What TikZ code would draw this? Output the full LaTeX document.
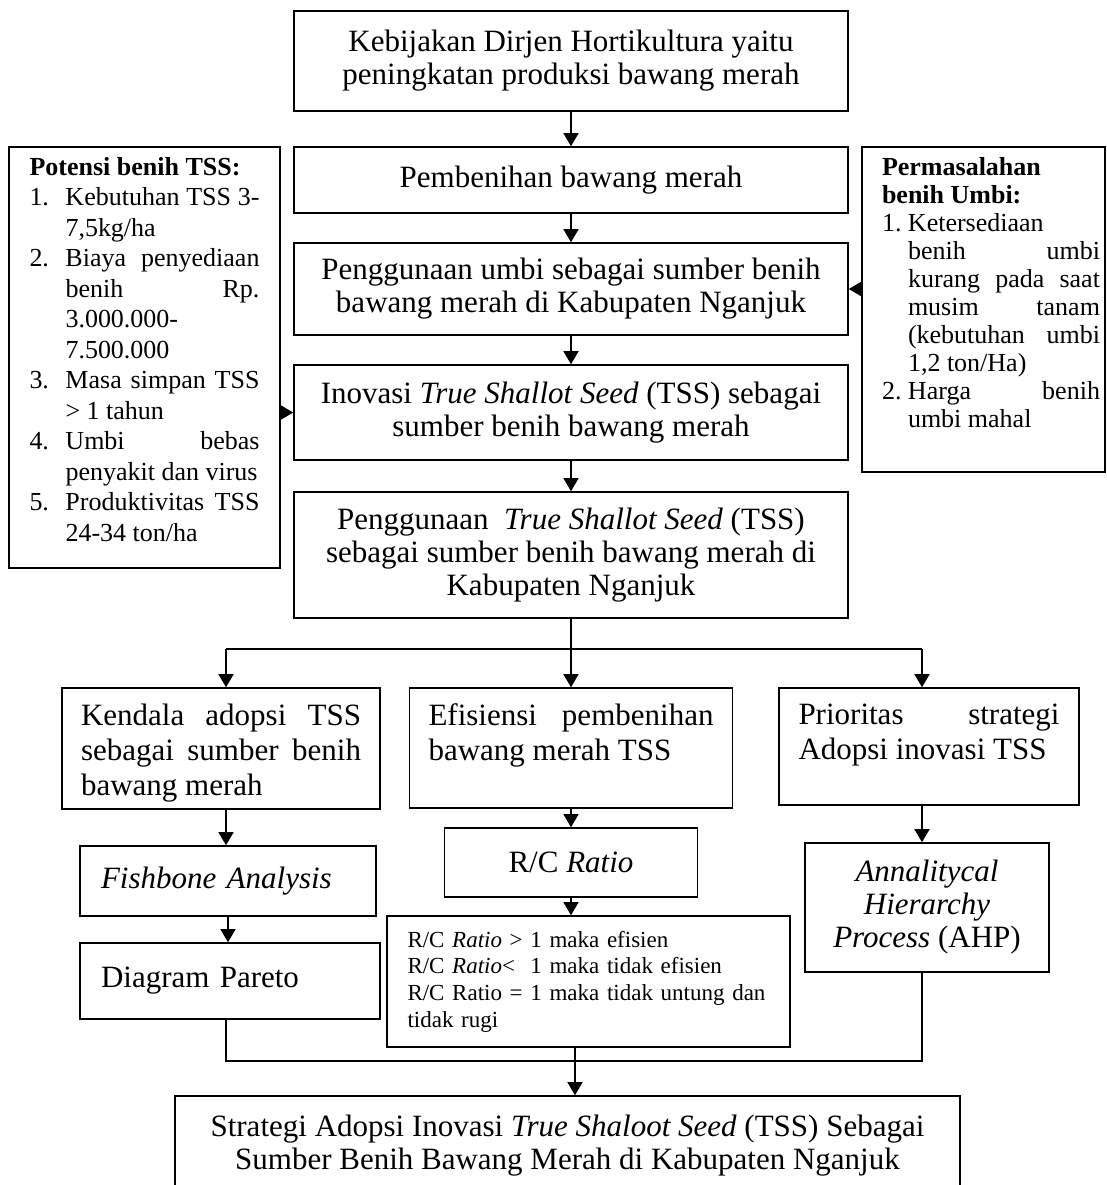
\documentclass[tikz,border=0pt]{standalone}
\usepackage{fontspec}
\setmainfont{Liberation Serif}
\usetikzlibrary{arrows.meta}

\newcommand{\bigtxt}{\fontsize{15.5pt}{16.5pt}\selectfont}
\newcommand{\coltxt}{\fontsize{15.5pt}{17.5pt}\selectfont}
\newcommand{\sidetxt}{\fontsize{13pt}{15.25pt}\selectfont}
\newcommand{\masalahtxt}{\fontsize{13pt}{14pt}\selectfont}
\newcommand{\smalltxt}{\fontsize{11.5pt}{13.3pt}\selectfont}
\newcommand{\numitem}[3]{\par\noindent\hangindent=#1\hangafter=1\makebox[#1][l]{#2}#3\par}
\newcommand{\topbox}[4]{\parbox[c][#1][t]{#2}{\hyphenpenalty=10000 \vspace*{#3}#4}}

\tikzset{
  box/.style={draw, line width=0.8pt, inner sep=0pt},
  link/.style={line width=0.7pt},
  arr/.style={link, -{Triangle[length=6.5pt,width=7.5pt]}},
}

\begin{document}
\begin{tikzpicture}[x=0.5pt,y=-0.5pt]
\useasboundingbox (0,0) rectangle (1107,1185);
\clip (0,0) rectangle (1107,1185);
\fill[white] (0,0) rectangle (1107,1185);

% main column
\node[box, align=center, font=\bigtxt, minimum width=277pt, minimum height=50pt] (kebijakan) at (571,61) {Kebijakan Dirjen Hortikultura yaitu\\peningkatan produksi bawang merah};
\node[box, align=center, font=\bigtxt, minimum width=277pt, minimum height=33pt] (pembenihan) at (571,180) {Pembenihan bawang merah};
\node[box, align=center, font=\bigtxt, minimum width=277pt, minimum height=46pt] (umbi) at (571,289) {Penggunaan umbi sebagai sumber benih\\bawang merah di Kabupaten Nganjuk};
\node[box, align=center, font=\bigtxt, minimum width=277pt, minimum height=47.5pt] (inovasi) at (571,412.5) {Inovasi \textit{True Shallot Seed} (TSS) sebagai\\sumber benih bawang merah};
\node[box, align=center, font=\bigtxt, minimum width=277pt, minimum height=63pt] (tss) at (571,555) {Penggunaan~ \textit{True Shallot Seed} (TSS)\\sebagai sumber benih bawang merah di\\Kabupaten Nganjuk};

% side boxes
\node[box, font=\sidetxt, minimum width=135.5pt, minimum height=210.5pt] (potensi) at (144.5,357.5) {\topbox{210.5pt}{115pt}{5pt}{\textbf{Potensi benih TSS:}
  \numitem{18pt}{1.}{Kebutuhan TSS 3-\linebreak 7,5kg/ha}
  \numitem{18pt}{2.}{Biaya penyediaan\linebreak benih Rp.\linebreak 3.000.000-\linebreak 7.500.000}
  \numitem{18pt}{3.}{Masa simpan TSS\linebreak > 1 tahun}
  \numitem{18pt}{4.}{Umbi bebas\linebreak penyakit dan virus}
  \numitem{18pt}{5.}{Produktivitas TSS\linebreak 24-34 ton/ha}}};
\node[box, font=\masalahtxt, minimum width=121.5pt, minimum height=162.5pt] (masalah) at (983.5,309.5) {\hspace*{7.5pt}\topbox{162.5pt}{109pt}{5pt}{\textbf{Permasalahan\\benih Umbi:}
  \numitem{13pt}{1.}{Ketersediaan\linebreak benih umbi\linebreak kurang pada saat\linebreak musim tanam\linebreak (kebutuhan umbi\linebreak 1,2 ton/Ha)}
  \numitem{13pt}{2.}{Harga benih\linebreak umbi mahal}}};

% three branches
\node[box, font=\coltxt, minimum width=159pt, minimum height=60.5pt] (kendala) at (221,748.5) {\topbox{60.5pt}{140pt}{8pt}{Kendala adopsi TSS\linebreak sebagai sumber benih\linebreak bawang merah}};
\node[box, font=\coltxt, minimum width=161.5pt, minimum height=60pt] (efisiensi) at (571,748) {\topbox{60pt}{142.5pt}{8pt}{Efisiensi pembenihan\linebreak bawang merah TSS}};
\node[box, font=\coltxt, minimum width=150pt, minimum height=58.5pt] (prioritas) at (929,746.5) {\topbox{58.5pt}{130.5pt}{8pt}{Prioritas strategi\linebreak Adopsi inovasi TSS}};

\node[box, font=\bigtxt, text width=127pt, inner xsep=10.5pt, align=left, minimum height=35pt] (fishbone) at (228,881) {\textit{Fishbone Analysis}};
\node[box, font=\bigtxt, text width=129pt, inner xsep=10.5pt, align=left, minimum height=38pt] (pareto) at (230,981) {Diagram Pareto};
\node[box, font=\bigtxt, minimum width=126.5pt, minimum height=34.5pt] (rc) at (571,862.5) {R/C \textit{Ratio}};
\node[box, font=\smalltxt, text width=181pt, inner xsep=10.25pt, align=left, minimum height=65.5pt] (rcdesc) at (588.5,981.5) {R/C \textit{Ratio} > 1 maka efisien\\R/C \textit{Ratio}<~ 1 maka tidak efisien\\R/C Ratio = 1 maka tidak untung dan\\tidak rugi};
\node[box, font=\bigtxt, align=center, minimum width=122pt, minimum height=64.5pt] (ahp) at (927,907.5) {\textit{Annalitycal}\\\textit{Hierarchy}\\\textit{Process} (AHP)};

\node[box, font=\bigtxt, align=center, minimum width=392.5pt, minimum height=50pt] (strategi) at (567.5,1146) {Strategi Adopsi Inovasi \textit{True Shaloot Seed} (TSS) Sebagai\\Sumber Benih Bawang Merah di Kabupaten Nganjuk};

% connectors
\draw[arr] (kebijakan.south) -- (pembenihan.north);
\draw[arr] (pembenihan.south) -- (umbi.north);
\draw[arr] (umbi.south) -- (inovasi.north);
\draw[arr] (inovasi.south) -- (tss.north);
\draw[arr] (masalah.west |- umbi.east) -- (umbi.east);
\draw[arr] (potensi.east |- inovasi.west) -- (inovasi.west);

\coordinate (split) at (571,649);
\coordinate (kiri) at (226,649);
\coordinate (kanan) at (922,649);
\draw[link] (tss.south) -- (split);
\draw[link] (kiri) -- (kanan);
\draw[arr] (kiri) -- (kiri |- kendala.north);
\draw[arr] (split) -- (efisiensi.north);
\draw[arr] (kanan) -- (kanan |- prioritas.north);

\draw[arr] (kiri |- kendala.south) -- (kiri |- fishbone.north);
\draw[arr] (fishbone.south) -- (fishbone.south |- pareto.north);
\draw[arr] (efisiensi.south) -- (rc.north);
\draw[arr] (rc.south) -- (rc.south |- rcdesc.north);
\draw[arr] (kanan |- prioritas.south) -- (kanan |- ahp.north);

\coordinate (gabung) at (575,1061);
\draw[link] (kiri |- pareto.south) |- (gabung) -| (kanan |- ahp.south);
\draw[arr] (gabung |- rcdesc.south) -- (gabung |- strategi.north);
\end{tikzpicture}
\end{document}
